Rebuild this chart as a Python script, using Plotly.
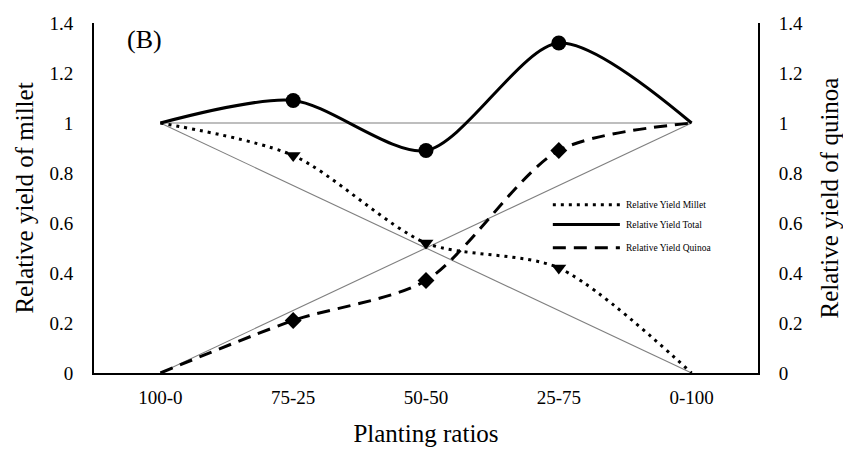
import plotly.graph_objects as go

categories = ["100-0", "75-25", "50-50", "25-75", "0-100"]
yield_total = [1.0, 1.09, 0.89, 1.32, 1.0]
yield_millet = [1.0, 0.87, 0.52, 0.42, 0.0]
yield_quinoa = [0.0, 0.21, 0.37, 0.89, 1.0]
ref_flat = [1.0, 1.0]
ref_down = [1.0, 0.0]
ref_up = [0.0, 1.0]
ref_x = [categories[0], categories[-1]]
tick_vals = [0, 0.2, 0.4, 0.6, 0.8, 1.0, 1.2, 1.4]
series_names = ["Relative Yield Millet", "Relative Yield Total", "Relative Yield Quinoa"]

FONT = "Liberation Serif, Times New Roman, serif"
grey = "#7f7f7f"
DOT = "3px,5px"
DASH = "13px,8px"

fig = go.Figure()

# reference lines
for ys in (ref_flat, ref_down, ref_up):
    fig.add_trace(go.Scatter(x=ref_x, y=ys, mode="lines",
                             line=dict(color=grey, width=1.1),
                             showlegend=False, hoverinfo="skip"))

# series lines
fig.add_trace(go.Scatter(x=categories, y=yield_millet, mode="lines", name=series_names[0],
                         line=dict(color="black", width=3, dash=DOT, shape="spline", smoothing=0.8),
                         showlegend=False))
fig.add_trace(go.Scatter(x=categories, y=yield_total, mode="lines", name=series_names[1],
                         line=dict(color="black", width=3, shape="spline", smoothing=0.8),
                         showlegend=False))
fig.add_trace(go.Scatter(x=categories, y=yield_quinoa, mode="lines", name=series_names[2],
                         line=dict(color="black", width=3, dash=DASH, shape="spline", smoothing=0.8),
                         showlegend=False))

# markers at interior points
mid = slice(1, 4)
fig.add_trace(go.Scatter(x=categories[mid], y=yield_millet[mid], mode="markers",
                         marker=dict(symbol="triangle-down", size=13, color="black"),
                         showlegend=False))
fig.add_trace(go.Scatter(x=categories[mid], y=yield_total[mid], mode="markers",
                         marker=dict(symbol="circle", size=15, color="black"),
                         showlegend=False))
fig.add_trace(go.Scatter(x=categories[mid], y=yield_quinoa[mid], mode="markers",
                         marker=dict(symbol="diamond", size=13, color="black"),
                         showlegend=False))
# invisible trace to activate the right axis
fig.add_trace(go.Scatter(x=categories, y=yield_quinoa, yaxis="y2", mode="lines",
                         line=dict(width=0), opacity=0, showlegend=False, hoverinfo="skip"))

# hand-drawn legend (long line samples as in the original)
legend_y = [0.481, 0.424, 0.358]
legend_dash = [DOT, "solid", DASH]
shapes = []
annotations = []
for name, ly, dsh in zip(series_names, legend_y, legend_dash):
    shapes.append(dict(type="line", xref="paper", yref="paper",
                       x0=0.691, x1=0.792, y0=ly, y1=ly,
                       line=dict(color="black", width=3, dash=dsh)))
    annotations.append(dict(text=name, x=0.798, y=ly, xref="paper", yref="paper",
                            xanchor="left", yanchor="middle", showarrow=False,
                            font=dict(size=9.5)))
annotations.append(dict(text="(B)", x=0.047, y=1.0, xref="paper", yref="paper",
                        xanchor="left", yanchor="top", showarrow=False,
                        font=dict(size=26)))

fig.update_layout(
    width=843, height=441,
    margin=dict(l=86, r=93, t=15, b=76),
    paper_bgcolor="white", plot_bgcolor="white",
    font=dict(family=FONT, size=19, color="black"),
    showlegend=False,
    xaxis=dict(type="category", categoryorder="array", categoryarray=categories,
               range=[-0.5, 4.5], showgrid=False, zeroline=False, automargin=False,
               showline=True, linecolor="black", linewidth=2, ticks="",
               tickfont=dict(size=19), ticklabelstandoff=6,
               title=dict(text="Planting ratios", font=dict(size=25), standoff=18)),
    yaxis=dict(range=[0, 1.4], tickvals=tick_vals, showgrid=False, zeroline=False,
               automargin=False,
               showline=True, linecolor="black", linewidth=2, ticks="",
               tickfont=dict(size=19), ticklabelstandoff=15,
               title=dict(text="Relative yield of millet", font=dict(size=25), standoff=9)),
    yaxis2=dict(range=[0, 1.4], tickvals=tick_vals, overlaying="y", side="right",
                showgrid=False, zeroline=False, automargin=False,
                showline=True, linecolor="black", linewidth=2, ticks="",
                tickfont=dict(size=19), ticklabelstandoff=15,
                title=dict(text="Relative yield of quinoa", font=dict(size=25), standoff=18)),
    shapes=shapes,
    annotations=annotations,
)

fig.write_html("out.html")
